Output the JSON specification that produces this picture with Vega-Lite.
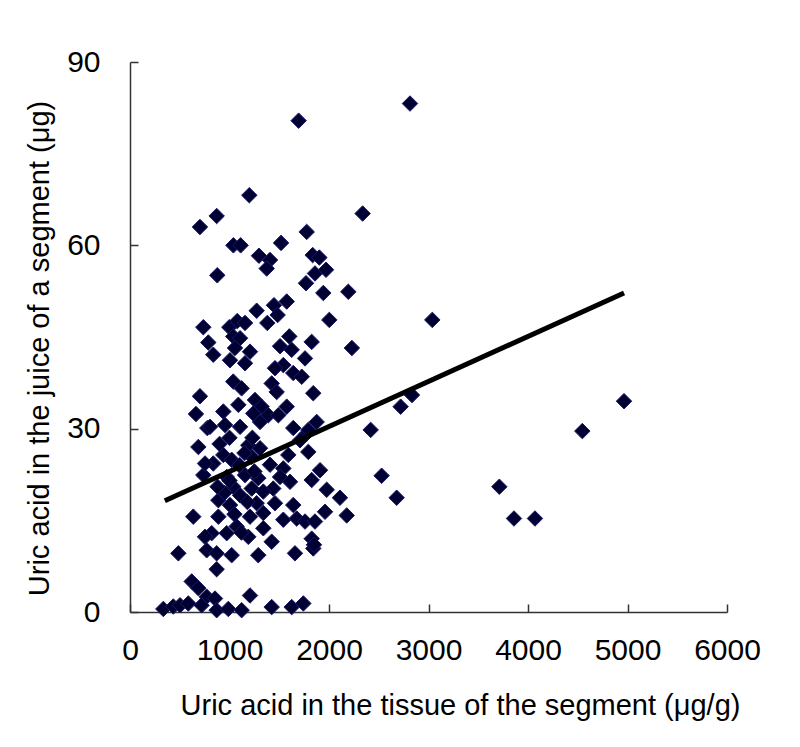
{
  "$schema": "https://vega.github.io/schema/vega-lite/v6.json",
  "width": 597,
  "height": 550,
  "autosize": {"type": "none"},
  "padding": {"left": 130, "top": 62, "right": 73, "bottom": 135},
  "background": "white",
  "config": {"view": {"stroke": null}, "font": "Liberation Sans"},
  "datasets": {
    "pts": [
      {"tissue": 2814, "juice": 83.2}, {"tissue": 1695, "juice": 80.4}, {"tissue": 1199, "juice": 68.2}, {"tissue": 2338, "juice": 65.2},
      {"tissue": 871, "juice": 64.8}, {"tissue": 703, "juice": 63.0}, {"tissue": 1776, "juice": 62.2}, {"tissue": 1518, "juice": 60.4},
      {"tissue": 1039, "juice": 60.0}, {"tissue": 1112, "juice": 60.0},
      {"tissue": 1296, "juice": 58.3}, {"tissue": 1407, "juice": 57.6}, {"tissue": 1374, "juice": 56.2}, {"tissue": 877, "juice": 55.1},
      {"tissue": 1836, "juice": 58.4}, {"tissue": 1903, "juice": 58.0}, {"tissue": 1859, "juice": 55.4}, {"tissue": 1970, "juice": 56.0},
      {"tissue": 1769, "juice": 53.8}, {"tissue": 1943, "juice": 52.2}, {"tissue": 2194, "juice": 52.4}, {"tissue": 1575, "juice": 50.8},
      {"tissue": 1447, "juice": 50.2}, {"tissue": 1273, "juice": 49.3}, {"tissue": 1484, "juice": 48.6}, {"tissue": 1380, "juice": 47.3},
      {"tissue": 2003, "juice": 47.8}, {"tissue": 737, "juice": 46.6}, {"tissue": 998, "juice": 46.6}, {"tissue": 1078, "juice": 47.6},
      {"tissue": 1156, "juice": 47.3}, {"tissue": 787, "juice": 44.1}, {"tissue": 837, "juice": 42.1}, {"tissue": 1038, "juice": 45.1},
      {"tissue": 1106, "juice": 44.8}, {"tissue": 1055, "juice": 43.2}, {"tissue": 1206, "juice": 42.6}, {"tissue": 1005, "juice": 41.2},
      {"tissue": 1156, "juice": 40.7}, {"tissue": 1601, "juice": 45.1}, {"tissue": 1508, "juice": 43.5}, {"tissue": 1625, "juice": 42.9},
      {"tissue": 1826, "juice": 44.2}, {"tissue": 1759, "juice": 41.5}, {"tissue": 1541, "juice": 40.4}, {"tissue": 2230, "juice": 43.2},
      {"tissue": 3038, "juice": 47.8}, {"tissue": 2834, "juice": 35.5}, {"tissue": 2720, "juice": 33.6}, {"tissue": 2680, "juice": 18.7},
      {"tissue": 3712, "juice": 20.5}, {"tissue": 3859, "juice": 15.3}, {"tissue": 4070, "juice": 15.3}, {"tissue": 4546, "juice": 29.6},
      {"tissue": 4965, "juice": 34.5}, {"tissue": 2419, "juice": 29.8}, {"tissue": 2529, "juice": 22.3}, {"tissue": 2110, "juice": 18.7},
      {"tissue": 2178, "juice": 15.8},
      {"tissue": 703, "juice": 35.3}, {"tissue": 663, "juice": 32.4}, {"tissue": 777, "juice": 30.1}, {"tissue": 1424, "juice": 37.4},
      {"tissue": 1641, "juice": 39.1}, {"tissue": 1842, "juice": 35.8}, {"tissue": 1457, "juice": 39.9}, {"tissue": 1575, "juice": 33.6},
      {"tissue": 1776, "juice": 29.2}, {"tissue": 1726, "juice": 38.5}, {"tissue": 1038, "juice": 37.7}, {"tissue": 1122, "juice": 36.6},
      {"tissue": 1474, "juice": 36.0}, {"tissue": 1089, "juice": 33.9}, {"tissue": 1256, "juice": 34.7}, {"tissue": 1323, "juice": 33.6},
      {"tissue": 938, "juice": 32.8}, {"tissue": 1390, "juice": 32.2}, {"tissue": 1491, "juice": 32.2}, {"tissue": 804, "juice": 30.3},
      {"tissue": 955, "juice": 30.6}, {"tissue": 1106, "juice": 30.3}, {"tissue": 1307, "juice": 31.1}, {"tissue": 1641, "juice": 30.1},
      {"tissue": 1876, "juice": 31.1}, {"tissue": 1792, "juice": 29.8}, {"tissue": 687, "juice": 27.0}, {"tissue": 1189, "juice": 27.3},
      {"tissue": 1307, "juice": 26.8}, {"tissue": 1709, "juice": 28.1}, {"tissue": 938, "juice": 25.7}, {"tissue": 1022, "juice": 24.9},
      {"tissue": 1223, "juice": 25.4}, {"tissue": 1591, "juice": 25.7}, {"tissue": 1792, "juice": 26.2}, {"tissue": 837, "juice": 24.3},
      {"tissue": 1407, "juice": 24.1}, {"tissue": 1541, "juice": 23.5}, {"tissue": 1910, "juice": 23.2}, {"tissue": 737, "juice": 22.4},
      {"tissue": 972, "juice": 22.1}, {"tissue": 1156, "juice": 22.4}, {"tissue": 1289, "juice": 21.9}, {"tissue": 1508, "juice": 22.1},
      {"tissue": 1608, "juice": 21.3}, {"tissue": 1826, "juice": 21.6}, {"tissue": 1038, "juice": 20.5}, {"tissue": 1223, "juice": 20.2},
      {"tissue": 1440, "juice": 20.2}, {"tissue": 1977, "juice": 20.0}, {"tissue": 1239, "juice": 32.5}, {"tissue": 754, "juice": 24.3},
      {"tissue": 636, "juice": 15.6}, {"tissue": 486, "juice": 9.6}, {"tissue": 871, "juice": 7.0}, {"tissue": 620, "juice": 5.0},
      {"tissue": 687, "juice": 3.9}, {"tissue": 771, "juice": 2.5}, {"tissue": 854, "juice": 2.2}, {"tissue": 335, "juice": 0.5},
      {"tissue": 435, "juice": 0.9}, {"tissue": 503, "juice": 1.1}, {"tissue": 586, "juice": 1.4}, {"tissue": 720, "juice": 1.1},
      {"tissue": 871, "juice": 0.3}, {"tissue": 988, "juice": 0.5}, {"tissue": 1122, "juice": 0.3}, {"tissue": 1206, "juice": 2.7},
      {"tissue": 1424, "juice": 0.8}, {"tissue": 1625, "juice": 0.8}, {"tissue": 1742, "juice": 1.4},
      {"tissue": 771, "juice": 10.1}, {"tissue": 871, "juice": 9.6}, {"tissue": 1022, "juice": 9.3}, {"tissue": 1289, "juice": 9.3},
      {"tissue": 1658, "juice": 9.6}, {"tissue": 1842, "juice": 10.4}, {"tissue": 1826, "juice": 12.0}, {"tissue": 1424, "juice": 11.5},
      {"tissue": 1340, "juice": 13.7}, {"tissue": 1189, "juice": 12.3}, {"tissue": 1072, "juice": 14.0}, {"tissue": 888, "juice": 15.6},
      {"tissue": 821, "juice": 12.9}, {"tissue": 754, "juice": 12.3}, {"tissue": 972, "juice": 12.9}, {"tissue": 1849, "juice": 11.0},
      {"tissue": 888, "juice": 18.3}, {"tissue": 1005, "juice": 17.5}, {"tissue": 1106, "juice": 19.1}, {"tissue": 1273, "juice": 17.8},
      {"tissue": 1340, "juice": 16.2}, {"tissue": 1206, "juice": 15.6}, {"tissue": 1457, "juice": 17.8}, {"tissue": 1541, "juice": 15.1},
      {"tissue": 1641, "juice": 17.5}, {"tissue": 1675, "juice": 15.3}, {"tissue": 1759, "juice": 14.8}, {"tissue": 1859, "juice": 14.8},
      {"tissue": 1960, "juice": 16.4}, {"tissue": 1340, "juice": 19.7},
      {"tissue": 900, "juice": 27.5}, {"tissue": 1000, "juice": 28.5}, {"tissue": 1150, "juice": 26.0}, {"tissue": 1250, "juice": 23.0},
      {"tissue": 1100, "juice": 24.0}, {"tissue": 950, "juice": 19.5}, {"tissue": 1180, "juice": 18.0}, {"tissue": 1050, "juice": 16.0},
      {"tissue": 1000, "juice": 21.5}, {"tissue": 1230, "juice": 28.5}, {"tissue": 880, "juice": 20.5}, {"tissue": 1120, "juice": 13.0}
    ],
    "fit": [
      {"tissue": 350, "juice": 18.2},
      {"tissue": 4965, "juice": 52.2}
    ]
  },
  "layer": [
    {
      "data": {"name": "pts"},
      "mark": {"type": "point", "shape": "diamond", "filled": true, "size": 240, "fill": "#000033", "stroke": "#1a1a66", "strokeWidth": 1, "opacity": 1},
      "encoding": {
        "x": {
          "field": "tissue", "type": "quantitative",
          "scale": {"domain": [0, 6000], "nice": false, "zero": true},
          "axis": {
            "values": [0, 1000, 2000, 3000, 4000, 5000, 6000],
            "format": "d",
            "grid": false,
            "domainColor": "#333333", "domainWidth": 1.5,
            "tickColor": "#333333", "tickWidth": 1.5, "tickSize": -8,
            "labelPadding": 31, "labelFontSize": 30, "labelColor": "#000000",
            "labelFlush": false, "labelOverlap": false,
            "title": "Uric acid in the tissue of the segment (μg/g)",
            "titleFontSize": 29, "titleFontWeight": "normal", "titleColor": "#000000",
            "titlePadding": 26,
            "titleX": 330
          }
        },
        "y": {
          "field": "juice", "type": "quantitative",
          "scale": {"domain": [0, 90], "nice": false, "zero": true},
          "axis": {
            "values": [0, 30, 60, 90],
            "grid": false,
            "domainColor": "#333333", "domainWidth": 1.5,
            "tickColor": "#333333", "tickWidth": 1.5, "tickSize": -8,
            "labelPadding": 38, "labelFontSize": 30, "labelColor": "#000000",
            "labelFlush": false, "labelOverlap": false,
            "title": "Uric acid in the juice of a segment (μg)",
            "titleFontSize": 29, "titleFontWeight": "normal", "titleColor": "#000000",
            "titlePadding": 12,
            "titleY": 286
          }
        }
      }
    },
    {
      "data": {"name": "fit"},
      "mark": {"type": "line", "color": "#000000", "strokeWidth": 5},
      "encoding": {
        "x": {"field": "tissue", "type": "quantitative"},
        "y": {"field": "juice", "type": "quantitative"}
      }
    }
  ]
}
